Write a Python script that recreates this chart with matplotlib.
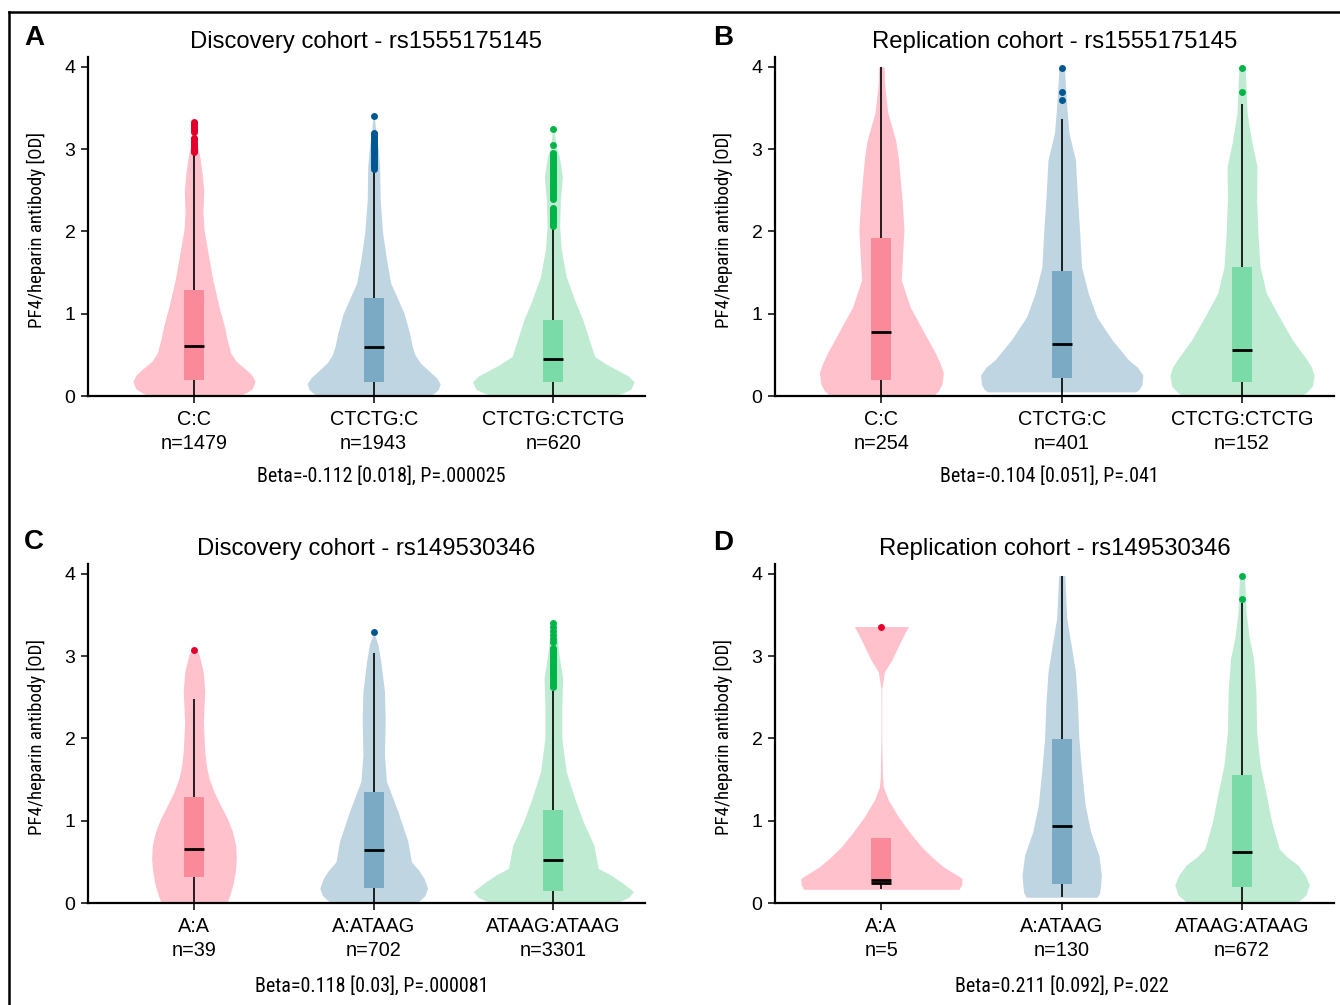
import matplotlib
matplotlib.use('Agg')
import matplotlib.pyplot as plt
import matplotlib.transforms as mtransforms
from matplotlib.lines import Line2D
import numpy as np


plt.rcParams['font.family'] = ['Liberation Sans', 'DejaVu Sans']
NARROW = ['Liberation Sans Narrow', 'Roboto Condensed', 'Archivo Narrow',
          'PT Sans Narrow', 'DejaVu Sans']

# ---- panel A: discovery rs1555175145 ----
A_title = 'Discovery cohort - rs1555175145'
A_labels = ['C:C', 'CTCTG:C', 'CTCTG:CTCTG']
A_n = [1479, 1943, 620]
A_stat = 'Beta=-0.112 [0.018], P=.000025'
A_q1 = [0.19, 0.17, 0.17]
A_med = [0.61, 0.59, 0.45]
A_q3 = [1.29, 1.19, 0.92]
A_wlo = [0.0, 0.0, 0.0]
A_whi = [2.95, 2.75, 2.08]
A_out = [
    [2.96, 2.98, 3.00, 3.02, 3.04, 3.06, 3.08, 3.10, 3.12, 3.14,
     3.21, 3.23, 3.25, 3.27, 3.29, 3.31, 3.33],
    [2.76, 2.78, 2.80, 2.82, 2.84, 2.86, 2.88, 2.90, 2.92, 2.94, 2.96, 2.98,
     3.00, 3.02, 3.04, 3.06, 3.08, 3.10, 3.12, 3.14, 3.16, 3.18, 3.20, 3.40],
    [2.07, 2.09, 2.11, 2.13, 2.15, 2.17, 2.19, 2.21, 2.23, 2.25, 2.27, 2.29,
     2.39, 2.41, 2.43, 2.45, 2.47, 2.49, 2.51, 2.53, 2.55, 2.57, 2.59, 2.61,
     2.63, 2.65, 2.67, 2.69, 2.71, 2.73, 2.75, 2.77, 2.79, 2.81, 2.83, 2.85,
     2.87, 2.89, 2.91, 2.93, 2.95, 3.05, 3.25],
]
A_vy = [
    [0.0, 0.04, 0.09, 0.18, 0.26, 0.33, 0.42, 0.52, 0.68, 0.84, 1.08, 1.41, 1.74, 2.02, 2.22, 2.50, 2.71, 2.90, 3.05, 3.35],
    [0.0, 0.04, 0.08, 0.15, 0.22, 0.30, 0.40, 0.50, 0.60, 0.76, 1.00, 1.20, 1.37, 1.65, 1.98, 2.38, 2.79, 3.00, 3.20, 3.42],
    [0.0, 0.03, 0.08, 0.17, 0.24, 0.31, 0.38, 0.48, 0.68, 0.92, 1.17, 1.45, 1.78, 2.06, 2.38, 2.67, 2.91, 3.03, 3.27],
]
A_vw = [
    [0.25, 0.29, 0.325, 0.34, 0.32, 0.285, 0.235, 0.205, 0.185, 0.17, 0.14, 0.105, 0.078, 0.056, 0.050, 0.054, 0.045, 0.033, 0.018, 0.004],
    [0.31, 0.34, 0.36, 0.37, 0.35, 0.31, 0.26, 0.23, 0.215, 0.20, 0.17, 0.13, 0.095, 0.072, 0.050, 0.036, 0.033, 0.025, 0.012, 0.003],
    [0.33, 0.38, 0.43, 0.45, 0.42, 0.36, 0.30, 0.23, 0.20, 0.165, 0.118, 0.072, 0.044, 0.035, 0.039, 0.050, 0.033, 0.015, 0.003],
]

# ---- panel B: replication rs1555175145 ----
B_title = 'Replication cohort - rs1555175145'
B_labels = ['C:C', 'CTCTG:C', 'CTCTG:CTCTG']
B_n = [254, 401, 152]
B_stat = 'Beta=-0.104 [0.051], P=.041'
B_q1 = [0.20, 0.22, 0.17]
B_med = [0.78, 0.63, 0.56]
B_q3 = [1.92, 1.52, 1.57]
B_wlo = [0.0, 0.0, 0.0]
B_whi = [4.0, 3.37, 3.55]
B_out = [[], [3.60, 3.70, 3.99], [3.70, 3.99]]
B_vy = [
    [0.0, 0.06, 0.14, 0.28, 0.40, 0.52, 0.76, 1.08, 1.41, 1.74, 2.02, 2.38, 2.87, 3.10, 3.45, 3.80, 4.0],
    [0.05, 0.08, 0.14, 0.255, 0.35, 0.44, 0.68, 0.96, 1.25, 1.57, 1.98, 2.38, 2.87, 3.20, 3.52, 3.80, 4.0],
    [0.0, 0.05, 0.12, 0.25, 0.35, 0.44, 0.68, 0.96, 1.25, 1.57, 1.98, 2.38, 2.79, 3.11, 3.44, 3.76, 4.0],
]
B_vw = [
    [0.285, 0.315, 0.335, 0.344, 0.325, 0.30, 0.24, 0.16, 0.11, 0.118, 0.125, 0.115, 0.095, 0.08, 0.035, 0.017, 0.015],
    [0.41, 0.43, 0.445, 0.45, 0.42, 0.37, 0.28, 0.195, 0.147, 0.11, 0.10, 0.088, 0.076, 0.04, 0.028, 0.02, 0.015],
    [0.33, 0.36, 0.39, 0.40, 0.385, 0.36, 0.28, 0.207, 0.135, 0.10, 0.088, 0.081, 0.083, 0.052, 0.028, 0.022, 0.017],
]

# ---- panel C: discovery rs149530346 ----
C_title = 'Discovery cohort - rs149530346'
C_labels = ['A:A', 'A:ATAAG', 'ATAAG:ATAAG']
C_n = [39, 702, 3301]
C_stat = 'Beta=0.118 [0.03], P=.000081'
C_q1 = [0.32, 0.18, 0.15]
C_med = [0.66, 0.64, 0.52]
C_q3 = [1.285, 1.345, 1.13]
C_wlo = [0.0, 0.0, 0.0]
C_whi = [2.48, 3.04, 2.58]
C_out = [
    [3.07],
    [3.29],
    [2.62, 2.64, 2.66, 2.68, 2.70, 2.72, 2.74, 2.76, 2.78, 2.80, 2.82, 2.84,
     2.86, 2.88, 2.90, 2.92, 2.94, 2.96, 2.98, 3.00, 3.02, 3.04, 3.06, 3.08,
     3.10, 3.17, 3.21, 3.26, 3.31, 3.35, 3.40],
]
C_vy = [
    [0.0, 0.10, 0.22, 0.38, 0.54, 0.70, 0.87, 1.03, 1.19, 1.35, 1.52, 1.68, 1.84, 2.20, 2.57, 2.81, 3.02, 3.10],
    [0.0, 0.04, 0.09, 0.18, 0.30, 0.40, 0.50, 0.75, 1.11, 1.48, 1.80, 2.24, 2.57, 2.93, 3.14, 3.26],
    [0.0, 0.03, 0.07, 0.14, 0.25, 0.34, 0.42, 0.70, 0.99, 1.27, 1.60, 2.00, 2.41, 2.73, 3.02, 3.30, 3.42],
]
C_vw = [
    [0.183, 0.20, 0.216, 0.23, 0.236, 0.232, 0.214, 0.185, 0.147, 0.112, 0.083, 0.068, 0.060, 0.052, 0.060, 0.052, 0.028, 0.008],
    [0.237, 0.26, 0.285, 0.30, 0.28, 0.25, 0.21, 0.19, 0.135, 0.071, 0.060, 0.064, 0.060, 0.040, 0.024, 0.005],
    [0.344, 0.38, 0.42, 0.446, 0.38, 0.32, 0.25, 0.226, 0.166, 0.119, 0.071, 0.047, 0.047, 0.052, 0.031, 0.017, 0.005],
]

# ---- panel D: replication rs149530346 ----
D_title = 'Replication cohort - rs149530346'
D_labels = ['A:A', 'A:ATAAG', 'ATAAG:ATAAG']
D_n = [5, 130, 672]
D_stat = 'Beta=0.211 [0.092], P=.022'
D_q1 = [0.24, 0.23, 0.20]
D_med = [0.285, 0.94, 0.62]
D_q3 = [0.79, 1.99, 1.56]
D_wlo = [0.166, 0.07, 0.0]
D_whi = [0.79, 3.98, 3.65]
D_out = [[3.36], [], [3.69, 3.98]]
D_vy = [
    [0.166, 0.22, 0.30, 0.44, 0.56, 0.68, 0.85, 1.05, 1.25, 1.41, 1.53, 2.00, 2.60, 2.81, 2.95, 3.12, 3.28, 3.36],
    [0.07, 0.12, 0.20, 0.34, 0.58, 0.87, 1.19, 1.60, 2.00, 2.41, 2.81, 3.14, 3.46, 3.83, 3.98],
    [0.0, 0.05, 0.10, 0.22, 0.34, 0.46, 0.56, 0.66, 0.99, 1.31, 1.68, 2.08, 2.57, 2.97, 3.22, 3.54, 3.83, 3.99],
]
D_vw = [
    [0.43, 0.445, 0.447, 0.344, 0.28, 0.224, 0.16, 0.094, 0.039, 0.011, 0.006, 0.002, 0.002, 0.017, 0.057, 0.094, 0.13, 0.15],
    [0.196, 0.21, 0.215, 0.22, 0.206, 0.16, 0.13, 0.111, 0.095, 0.088, 0.076, 0.052, 0.028, 0.020, 0.017],
    [0.30, 0.33, 0.355, 0.373, 0.35, 0.31, 0.25, 0.206, 0.164, 0.135, 0.10, 0.081, 0.077, 0.064, 0.040, 0.022, 0.017, 0.012],
]

violin_colors = ['#FFC2CD', '#BFD5E2', '#C0EBD3']
box_colors = ['#FA8A9A', '#7AAAC4', '#7ADBA9']
out_colors = ['#E4002B', '#005792', '#00B548']

BOX_W = 0.11
W, H = 1340, 1005


def px(x0, x1, y_top, y_bot):
    return [x0 / W, 1 - y_bot / H, (x1 - x0) / W, (y_bot - y_top) / H]


def draw_panel(ax, title, labels, n, stat, stat_x, stat_y,
               q1, med, q3, wlo, whi, out, vy, vw):
    for i in range(3):
        y = np.array(vy[i])
        w = np.array(vw[i])
        ax.fill_betweenx(y, i - w, i + w, color=violin_colors[i], lw=0, zorder=1)
        ax.vlines(i, wlo[i], q1[i], color='black', lw=1.2, zorder=2)
        ax.vlines(i, q3[i], whi[i], color='black', lw=1.2, zorder=2)
        ax.bar(i, q3[i] - q1[i], bottom=q1[i], width=BOX_W,
               color=box_colors[i], lw=0, zorder=3)
        ax.hlines(med[i], i - BOX_W / 2, i + BOX_W / 2, color='black', lw=2.0, zorder=4)
        if out[i]:
            ax.plot(np.full(len(out[i]), i), out[i], 'o', color=out_colors[i],
                    ms=5, mew=0, zorder=5)

    ax.set_xlim(-0.59, 2.51)
    ax.set_ylim(0, 4.12)
    ax.set_xticks([0, 1, 2])
    ax.set_xticklabels([f'{l}\nn={k}' for l, k in zip(labels, n)], fontsize=14.3,
                       linespacing=1.32)
    ax.set_yticks([0, 1, 2, 3, 4])
    ax.tick_params(axis='y', labelsize=14, length=5, width=1.1, pad=4)
    ax.tick_params(axis='x', length=5, width=1.1, pad=5)
    for s in ['top', 'right']:
        ax.spines[s].set_visible(False)
    for s in ['left', 'bottom']:
        ax.spines[s].set_linewidth(1.6)
    ax.set_ylabel('PF4/heparin antibody [OD]', family=NARROW, fontsize=13.6)
    ax.yaxis.set_label_coords(-0.076, 0.49)
    ax.set_title(title, fontsize=17.2, pad=6.5)
    trans = mtransforms.blended_transform_factory(ax.transData, ax.transAxes)
    ax.text(stat_x, stat_y, stat, transform=trans, ha='center', va='center',
            family=NARROW, fontsize=14.4)


fig = plt.figure(figsize=(13.4, 10.05), dpi=100)

ax_a = fig.add_axes(px(88, 645, 57, 396))
ax_b = fig.add_axes(px(775, 1334, 57, 396))
ax_c = fig.add_axes(px(88, 645, 564, 903))
ax_d = fig.add_axes(px(775, 1334, 564, 903))

draw_panel(ax_a, A_title, A_labels, A_n, A_stat, 1.04, -0.236,
           A_q1, A_med, A_q3, A_wlo, A_whi, A_out, A_vy, A_vw)
draw_panel(ax_b, B_title, B_labels, B_n, B_stat, 0.93, -0.236,
           B_q1, B_med, B_q3, B_wlo, B_whi, B_out, B_vy, B_vw)
draw_panel(ax_c, C_title, C_labels, C_n, C_stat, 0.99, -0.244,
           C_q1, C_med, C_q3, C_wlo, C_whi, C_out, C_vy, C_vw)
draw_panel(ax_d, D_title, D_labels, D_n, D_stat, 1.0, -0.244,
           D_q1, D_med, D_q3, D_wlo, D_whi, D_out, D_vy, D_vw)

# second black bar under the small A:A box in panel D
ax_d.hlines(D_q1[0], -BOX_W / 2, BOX_W / 2, color='black', lw=2.0, zorder=4)

# panel letters
for letter, (x, y) in zip('ABCD', [(24, 38), (713, 38), (24, 542), (713, 543)]):
    fig.text(x / W, 1 - y / H, letter, fontsize=20, fontweight='bold',
             ha='left', va='center')

# outer frame (top and left edges only are visible)
fig.add_artist(Line2D([9 / W, 1], [1 - 12 / H, 1 - 12 / H], color='black', lw=1.8))
fig.add_artist(Line2D([9 / W, 9 / W], [0, 1 - 12 / H], color='black', lw=1.8))

fig.savefig('out.png', dpi=100)
